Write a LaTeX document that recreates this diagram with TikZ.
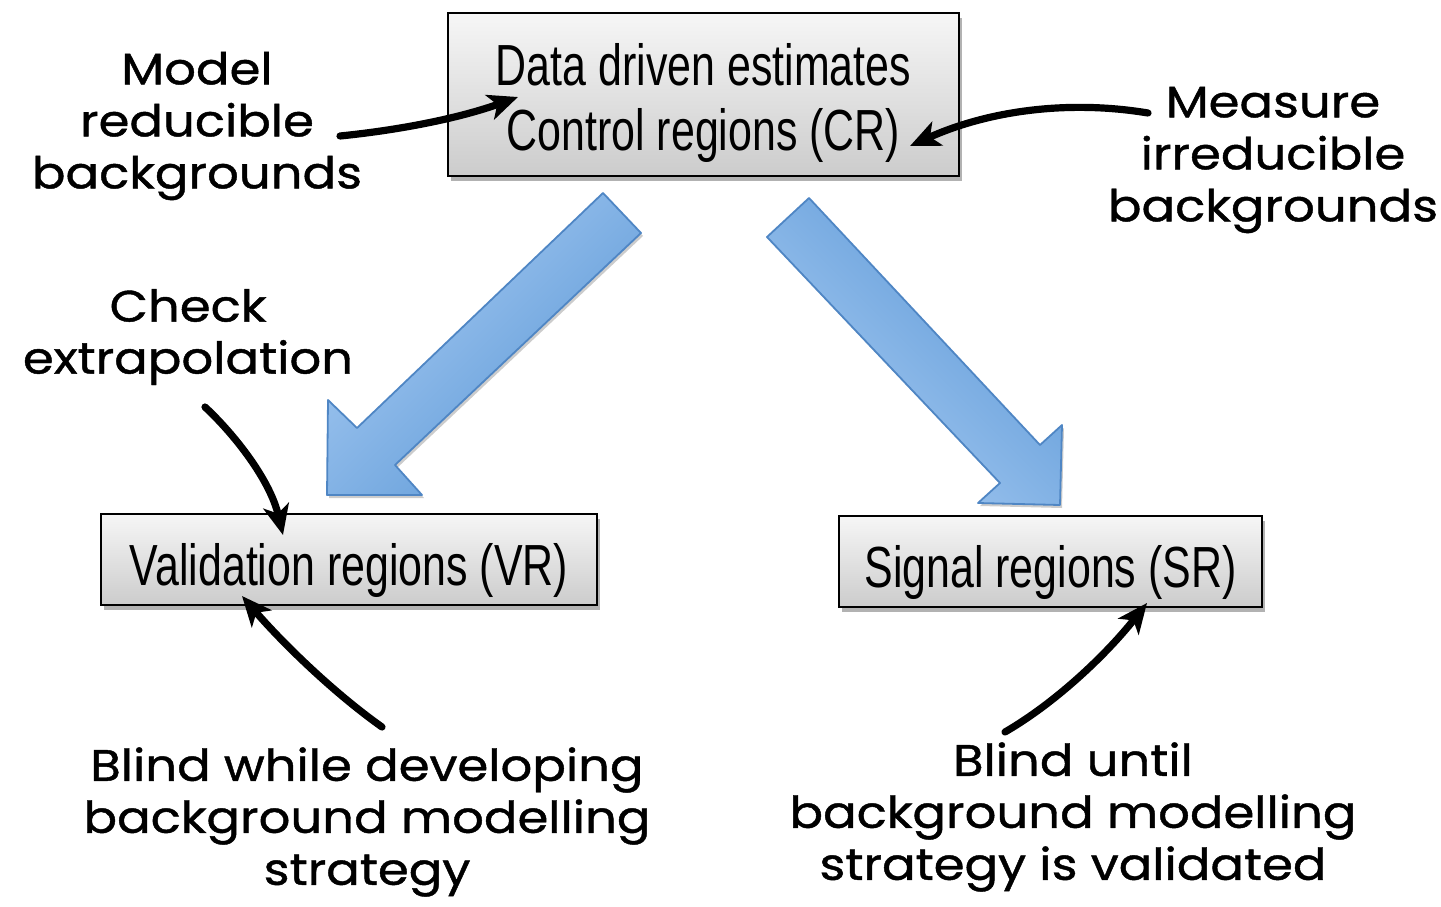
\documentclass[tikz,border=0pt]{standalone}
\usepackage{fontspec}
\setmainfont{Liberation Sans}
\newfontfamily\boxfont[FakeStretch=0.74]{Liberation Sans}
\newfontfamily\handfont[FakeStretch=1.13,FakeBold=1]{Poppins}
\usetikzlibrary{arrows.meta,shadows}

\definecolor{flowlight}{HTML}{A9CCF3}
\definecolor{flowdark}{HTML}{5A97D6}
\definecolor{flowedge}{HTML}{4F86C4}

\begin{document}
\begin{tikzpicture}[x=0.5pt,y=-0.5pt,
  region/.style={draw=black, line width=1.1pt, top color=gray!7, bottom color=gray!40,
    drop shadow={shadow xshift=1.5pt, shadow yshift=-2.5pt, opacity=0.3, fill=black},
    inner sep=0pt, align=center, font=\boxfont\fontsize{29}{32.5}\selectfont},
  oneline/.style={text height=25.5pt, text depth=0pt},
  note/.style={inner sep=0pt, align=center, font=\handfont\fontsize{22}{26}\selectfont},
  scribble/.style={line width=3.6pt, line cap=round, line join=round,
    -{Stealth[length=15pt,width=13pt,inset=4pt]}},
  flow/.style={draw=flowedge, line width=0.9pt, line join=round,
    drop shadow={shadow xshift=1pt, shadow yshift=-1.5pt, opacity=0.2, fill=black}}
]
\useasboundingbox (0,0) rectangle (1441,906);

% the three regions
\node[region, minimum width=255.5pt, minimum height=81.5pt,
      text height=55.5pt, text depth=0pt] (cr) at (703.5,94.5)
  {Data driven estimates\\Control regions (CR)};
\node[region, oneline, minimum width=248pt, minimum height=45.5pt] (vr) at (349,559.5)
  {Validation regions (VR)};
\node[region, oneline, minimum width=211.5pt, minimum height=45.5pt] (sr) at (1050.5,561.5)
  {Signal regions (SR)};

% big block arrows from CR down to VR and SR
\path[flow, top color=flowlight, bottom color=flowdark, shading angle=45]
  (603,193) -- (641,233) -- (395,465) -- (422,495) -- (327,495)
  -- (328,400) -- (357,428) -- cycle;
\path[flow, top color=flowdark, bottom color=flowlight, shading angle=-45]
  (809,198) -- (1040,445) -- (1062,425) -- (1060,505) -- (978,503)
  -- (1000,483) -- (767,237) -- cycle;

% handwritten notes
\node[note] (model) at (197,126) {Model\\reducible\\backgrounds};
\node[note] (measure) at (1273,160) {Measure\\irreducible\\backgrounds};
\node[note] (check) at (188,337) {Check\\extrapolation};
\node[note] (blindvr) at (367,822) {Blind while developing\\background modelling\\strategy};
\node[note] (blindsr) at (1073,817) {Blind until\\background modelling\\strategy is validated};

% arrow end points
\coordinate (crleft) at (518,97);
\coordinate (crright) at (910,146);
\coordinate (vrtop) at (283,535);
\coordinate (vrbottom) at (242,596);
\coordinate (srbottom) at (1147,603);
\coordinate (modeltail) at (340,136);
\coordinate (measuretail) at (1148,113);
\coordinate (checktail) at (205,407);
\coordinate (blindvrtail) at (382,727);
\coordinate (blindsrtail) at (1005,732);

% hand-drawn pointers
\draw[scribble] (modeltail) .. controls (400,130) and (460,118) .. (crleft);
\draw[scribble] (measuretail) .. controls (1070,100) and (990,110) .. (crright);
\draw[scribble] (checktail) .. controls (235,435) and (270,480) .. (vrtop);
\draw[scribble] (blindvrtail) .. controls (330,690) and (280,640) .. (vrbottom);
\draw[scribble] (blindsrtail) .. controls (1060,700) and (1110,650) .. (srbottom);
\end{tikzpicture}
\end{document}
